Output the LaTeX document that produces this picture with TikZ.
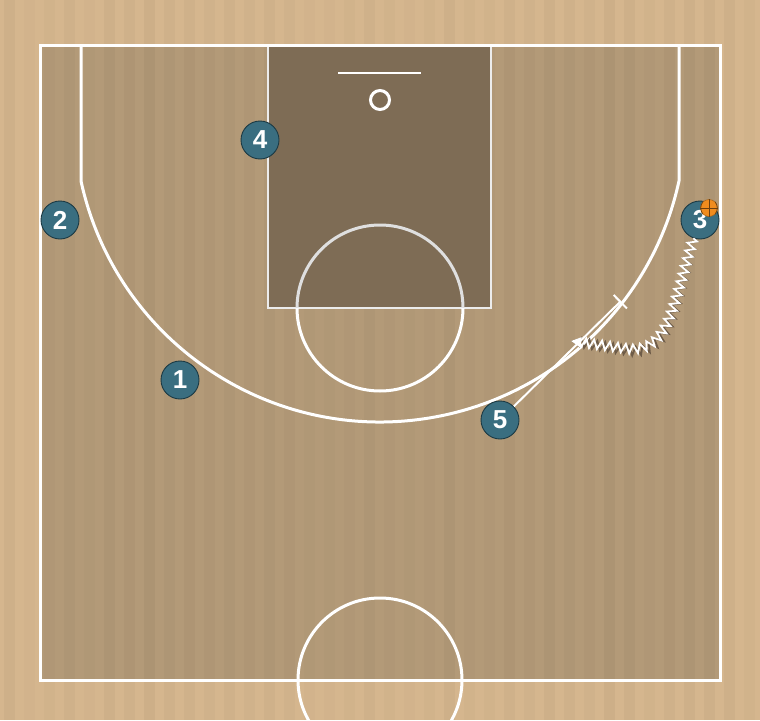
\documentclass[tikz,border=0pt]{standalone}
\usepackage{fontspec}
\setsansfont{Liberation Sans}
\usepackage{tikz}
\usetikzlibrary{arrows.meta,decorations.pathmorphing}

\definecolor{woodout}{RGB}{213,182,142}
\definecolor{woodin}{RGB}{179,154,120}
\definecolor{paint}{RGB}{126,108,85}
\definecolor{chip}{RGB}{58,110,128}
\definecolor{chipedge}{RGB}{28,58,68}
\definecolor{ballorange}{RGB}{240,140,30}
\definecolor{dribshadow}{RGB}{110,92,72}

\begin{document}
\begin{tikzpicture}[x=1pt,y=-1pt]
	\tikzstyle{courtline}=[white, line width=3pt]
	\tikzstyle{player}=[circle, minimum size=38pt, inner sep=0pt, fill=chip, draw=chipedge, line width=0.9pt, text=white, font=\fontsize{26}{26}\sffamily\bfseries]
	\tikzstyle{dribble}=[line width=1.8pt, decorate, decoration={zigzag, amplitude=4.5pt, segment length=8pt, post length=7pt}]
	\tikzstyle{screen}=[white, line width=2pt, -{Bar[width=19pt,line width=2pt]}]
	\useasboundingbox (0,0) rectangle (760,720);
	\clip (0,0) rectangle (760,720);
	% floor
	\fill [woodout] (0,0) rectangle (760,720);
	\fill [woodin] (40,45) rectangle (720,680);
	\pgfmathsetseed{7}
	\foreach \i in {0,...,37} {
		\pgfmathsetmacro\op{0.01+0.025*rnd}
		\fill [black, opacity=\op] (\i*20+4,0) rectangle ++(11,720);
	}
	% lane
	\fill [paint] (268,45) rectangle (491,308);
	\draw [white!85!gray, line width=2.5pt] (268,45) -- (268,308) -- (491,308) -- (491,45);
	\draw [white!75!gray, line width=3pt] (297,308) arc[start angle=180, end angle=360, radius=83];
	\draw [courtline] (297,308) arc[start angle=180, end angle=0, radius=83];
	% basket
	\draw [white, line width=2pt] (338,73) -- (421,73);
	\draw [white, line width=3pt] (380,100) circle (9.5);
	% three point line
	\draw [courtline] (81,45) -- (81,181) arc[start angle=167.73, end angle=12.27, radius=306] -- (679,45);
	% half court
	\draw [courtline] (380,680) circle (82);
	\draw [courtline] (40,45) rectangle (720,680);
	% players
	\node [player] (p1) at (180,380) {1};
	\node [player] (p2) at (60,220) {2};
	\node [player] (p3) at (700,220) {3};
	\node [player] (p4) at (260,140) {4};
	\node [player] (p5) at (500,420) {5};
	% ball
	\node [circle, minimum size=17pt, inner sep=0pt, fill=ballorange, draw=ballorange!70!black, line width=0.5pt] (ball) at (709,208) {};
	\draw [ballorange!45!black, line width=0.6pt] (ball.north) -- (ball.south) (ball.west) -- (ball.east);
	\draw [ballorange!45!black, line width=0.6pt] (ball.north west) to[bend right=35] (ball.south west);
	\draw [ballorange!45!black, line width=0.6pt] (ball.north east) to[bend left=35] (ball.south east);
	% actions
	\coordinate (drib) at (571,341);
	\coordinate (scr) at (621,301);
	\draw [dribble, dribshadow, -{Triangle[length=10pt,width=10pt]}, shift={(1.5,2)}] (p3.250) .. controls (672,310) and (668,350) .. (630,349) -- (drib);
	\draw [dribble, white, -{Triangle[length=10pt,width=10pt]}] (p3.250) .. controls (672,310) and (668,350) .. (630,349) -- (drib);
	\draw [screen] (p5) -- (scr);
\end{tikzpicture}
\end{document}
